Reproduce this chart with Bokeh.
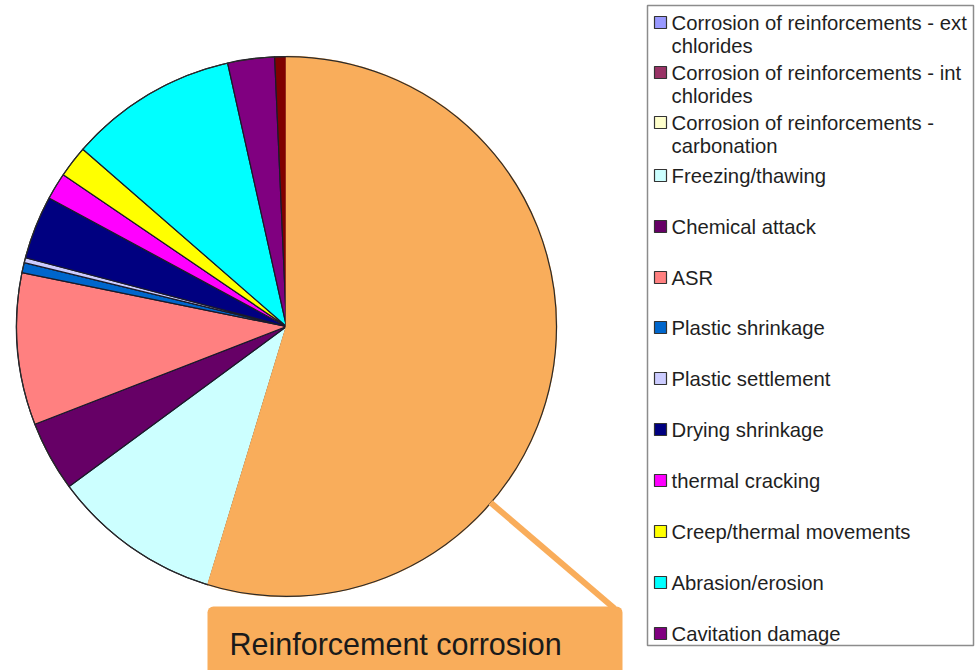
import numpy as np
from bokeh.plotting import figure
from bokeh.models import Range1d, BoxAnnotation, Label, ColumnDataSource
from bokeh.core.properties import value
from bokeh.embed import file_html
from bokeh.resources import INLINE

# ---- data (share of damage causes, %), clockwise from 12 o'clock ----
pie_labels = ["Reinforcement corrosion", "Freezing/thawing", "Chemical attack", "ASR",
              "Plastic shrinkage", "Plastic settlement", "Drying shrinkage",
              "thermal cracking", "Creep/thermal movements", "Abrasion/erosion",
              "Cavitation damage", "Other"]
pie_values = [54.7, 10.2, 4.2, 9.1, 0.6, 0.3, 3.8, 1.6, 1.9, 10.1, 2.8, 0.7]
pie_colors = ["#F9AD5B", "#CCFFFF", "#660066", "#FF8080", "#0066CC", "#CCCCFF",
              "#000080", "#FF00FF", "#FFFF00", "#00FFFF", "#800080", "#800000"]

legend_labels = ["Corrosion of reinforcements - ext\nchlorides",
                 "Corrosion of reinforcements - int\nchlorides",
                 "Corrosion of reinforcements -\ncarbonation",
                 "Freezing/thawing", "Chemical attack", "ASR", "Plastic shrinkage",
                 "Plastic settlement", "Drying shrinkage", "thermal cracking",
                 "Creep/thermal movements", "Abrasion/erosion", "Cavitation damage"]
legend_colors = ["#9999FF", "#993366", "#FFFFCC", "#CCFFFF", "#660066", "#FF8080",
                 "#0066CC", "#CCCCFF", "#000080", "#FF00FF", "#FFFF00", "#00FFFF",
                 "#800080"]
callout_text = "Reinforcement corrosion"

W, H = 980, 670
FONT = "Liberation Sans"

p = figure(width=W, height=H, output_backend="svg", toolbar_location=None,
           x_range=Range1d(0, W), y_range=Range1d(0, H), min_border=0,
           outline_line_color=None)
p.axis.visible = False
p.grid.visible = False
p.background_fill_color = "white"

def Y(py):
    return H - py

# ---- legend frame (underneath everything) ----
p.add_layout(BoxAnnotation(left=647, right=973, top=Y(5), bottom=Y(645),
                           fill_color="white", fill_alpha=1.0,
                           line_color="#8c8c8c", line_alpha=1.0, line_width=1.5,
                           level="underlay"))

# ---- pie ----
cx, cy, r = 286, Y(326), 270
vals = np.array(pie_values, dtype=float)
frac = vals / vals.sum() * 2 * np.pi
ends_cw = np.cumsum(frac)
starts_cw = ends_cw - frac
start_angle = np.pi / 2 - ends_cw
end_angle = np.pi / 2 - starts_cw

src = ColumnDataSource(dict(start=start_angle[1:], end=end_angle[1:],
                            color=pie_colors[1:], label=pie_labels[1:]))
p.wedge(x=cx, y=cy, radius=r, start_angle="start", end_angle="end",
        fill_color="color", line_color="#1a1a2a", line_width=1.2, source=src)
# highlighted corrosion slice on top
p.wedge(x=cx, y=cy, radius=r, start_angle=start_angle[0], end_angle=end_angle[0],
        fill_color=pie_colors[0], line_color=pie_colors[0], line_width=1.5)
p.arc(x=cx, y=cy, radius=r, start_angle=0, end_angle=2 * np.pi,
      line_color="#2a2a2a", line_width=1.2)

# ---- callout ----
p.segment(x0=490, y0=Y(502), x1=614, y1=Y(608), line_color=pie_colors[0], line_width=6)
p.add_layout(BoxAnnotation(left=207, right=622, top=Y(606), bottom=Y(680),
                           fill_color=pie_colors[0], fill_alpha=1.0,
                           line_alpha=0, border_radius=6))
p.add_layout(Label(x=229, y=Y(643), text=callout_text, text_baseline="middle",
                   text_font=FONT, text_font_size="30.5px", text_color="#1a1a1a"))

# ---- legend entries ----
entry_y = [22, 72, 122, 175, 226, 277, 327, 378, 429, 480, 531, 582, 633]
tx, ty, tt = [], [], []
for lab, yy in zip(legend_labels, entry_y):
    for k, line in enumerate(lab.split("\n")):
        tx.append(671)
        ty.append(Y(yy + 23 * k))
        tt.append(line)
p.scatter(x=[660] * len(entry_y), y=[Y(v) for v in entry_y], marker="square",
          size=12, fill_color=legend_colors, line_color="#333333", line_width=1.2)
p.text(x=tx, y=ty, text=tt, text_baseline="middle", text_align="left",
       text_font=value(FONT), text_font_size="20.3px", text_color="#1f1f1f")

open("out.html", "w").write(file_html(p, INLINE))
